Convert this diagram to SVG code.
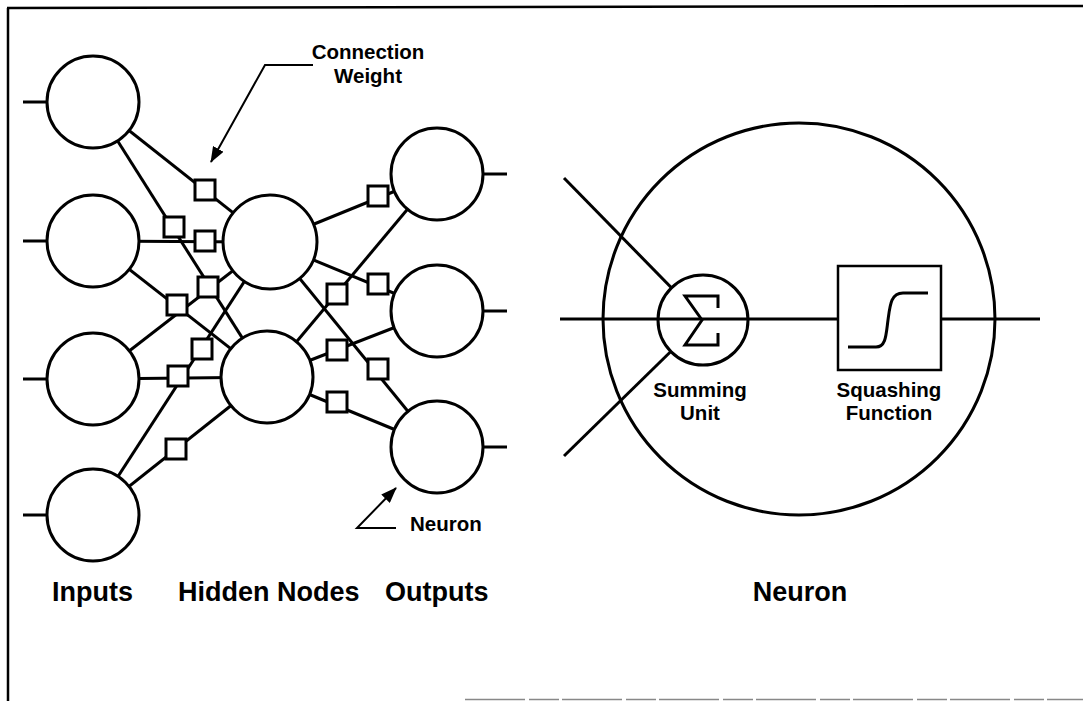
<svg xmlns="http://www.w3.org/2000/svg" width="1083" height="701" viewBox="0 0 1083 701">
<style>
.ln{stroke:#000;stroke-width:3;fill:none;stroke-linecap:butt}
.nd{stroke:#000;stroke-width:3;fill:#fff}
.wt{stroke:#000;stroke-width:3;fill:#fff}
.ar{stroke:#000;stroke-width:2;fill:none}
.t{font-family:"Liberation Sans",Arial,sans-serif;font-weight:bold;fill:#000}
.big{font-size:27px}
.med{font-size:20.5px}
</style>
<defs>
<marker id="ah" markerUnits="userSpaceOnUse" markerWidth="16" markerHeight="12" refX="15" refY="6" orient="auto">
<path d="M0,0 L16,6 L0,12 z" fill="#000"/>
</marker>
</defs>
<rect width="1083" height="701" fill="#fff"/>
<g id="frame">
<line x1="8" y1="8" x2="8" y2="701" stroke="#000" stroke-width="2.5"/>
<line x1="7" y1="8" x2="1083" y2="6" stroke="#000" stroke-width="2.5"/>
<line x1="465" y1="699.5" x2="1083" y2="699.5" stroke="#888" stroke-width="1.5" stroke-dasharray="60,4,30,3"/>
</g>
<g id="connectors">
<line class="ln" x1="93" y1="102" x2="270" y2="242"/>
<line class="ln" x1="93" y1="102" x2="267" y2="377"/>
<line class="ln" x1="93" y1="241" x2="270" y2="242"/>
<line class="ln" x1="93" y1="241" x2="267" y2="377"/>
<line class="ln" x1="93" y1="379" x2="270" y2="242"/>
<line class="ln" x1="93" y1="379" x2="267" y2="377"/>
<line class="ln" x1="93" y1="515" x2="270" y2="242"/>
<line class="ln" x1="93" y1="515" x2="267" y2="377"/>
<line class="ln" x1="270" y1="242" x2="437" y2="174"/>
<line class="ln" x1="270" y1="242" x2="437" y2="311"/>
<line class="ln" x1="270" y1="242" x2="437" y2="447"/>
<line class="ln" x1="267" y1="377" x2="437" y2="174"/>
<line class="ln" x1="267" y1="377" x2="437" y2="311"/>
<line class="ln" x1="267" y1="377" x2="437" y2="447"/>
<line class="ln" x1="23" y1="102" x2="47" y2="102"/>
<line class="ln" x1="23" y1="241" x2="47" y2="241"/>
<line class="ln" x1="23" y1="379" x2="47" y2="379"/>
<line class="ln" x1="23" y1="515" x2="47" y2="515"/>
<line class="ln" x1="483" y1="174" x2="507" y2="174"/>
<line class="ln" x1="483" y1="311" x2="507" y2="311"/>
<line class="ln" x1="483" y1="447" x2="507" y2="447"/>
<line class="ln" x1="564" y1="178" x2="703" y2="320"/>
<line class="ln" x1="564" y1="456" x2="703" y2="320"/>
<polyline class="ar" points="313,65 265,65 211,162" marker-end="url(#ah)"/>
<polyline class="ar" points="396,528 357,528 396,488" marker-end="url(#ah)"/>
</g>
<g id="input1"><circle class="nd" cx="93" cy="102" r="46"/></g>
<g id="input2"><circle class="nd" cx="93" cy="241" r="46"/></g>
<g id="input3"><circle class="nd" cx="93" cy="379" r="46"/></g>
<g id="input4"><circle class="nd" cx="93" cy="515" r="46"/></g>
<g id="hidden1"><circle class="nd" cx="270" cy="242" r="47"/></g>
<g id="hidden2"><circle class="nd" cx="267" cy="377" r="46"/></g>
<g id="output1"><circle class="nd" cx="437" cy="174" r="46"/></g>
<g id="output2"><circle class="nd" cx="437" cy="311" r="46"/></g>
<g id="output3"><circle class="nd" cx="437" cy="447" r="46"/></g>
<g id="weights">
<rect class="wt" x="195" y="180" width="20" height="20"/>
<rect class="wt" x="164" y="217" width="20" height="20"/>
<rect class="wt" x="195" y="231" width="20" height="20"/>
<rect class="wt" x="198" y="277" width="20" height="20"/>
<rect class="wt" x="167" y="295" width="20" height="20"/>
<rect class="wt" x="192" y="339" width="20" height="20"/>
<rect class="wt" x="168" y="366" width="20" height="20"/>
<rect class="wt" x="166" y="439" width="20" height="20"/>
<rect class="wt" x="368" y="186" width="20" height="20"/>
<rect class="wt" x="327" y="284" width="20" height="20"/>
<rect class="wt" x="368" y="274" width="20" height="20"/>
<rect class="wt" x="327" y="340" width="20" height="20"/>
<rect class="wt" x="368" y="359" width="20" height="20"/>
<rect class="wt" x="327" y="392" width="20" height="20"/>
</g>
<g id="neuron">
<circle cx="799" cy="319" r="196" fill="none" stroke="#000" stroke-width="3"/>
</g>
<g id="summing-unit">
<circle class="nd" cx="703" cy="320" r="45"/>
<line class="ln" x1="560" y1="319" x2="1040" y2="319"/>
<path class="ln" d="M718,308 V296 H685 L702,320 L685,345 H718 V333"/>
</g>
<g id="squashing-function">
<rect x="838" y="266" width="103" height="104" fill="#fff" stroke="#000" stroke-width="2.5"/>
<path class="ln" d="M848,347 H876 C886,347 886,335 888,320 C890,305 891,293 903,293 H928"/>
</g>
<g id="labels">
<text class="t med" x="368" y="59" text-anchor="middle">Connection</text>
<text class="t med" x="368" y="83" text-anchor="middle">Weight</text>
<text class="t med" x="410" y="531">Neuron</text>
<text class="t med" x="700" y="397" text-anchor="middle">Summing</text>
<text class="t med" x="700" y="420" text-anchor="middle">Unit</text>
<text class="t med" x="889" y="397" text-anchor="middle">Squashing</text>
<text class="t med" x="889" y="420" text-anchor="middle">Function</text>
<text class="t big" x="52" y="601">Inputs</text>
<text class="t big" x="178" y="601">Hidden Nodes</text>
<text class="t big" x="385" y="601">Outputs</text>
<text class="t big" x="800" y="601" text-anchor="middle">Neuron</text>
</g>
</svg>
